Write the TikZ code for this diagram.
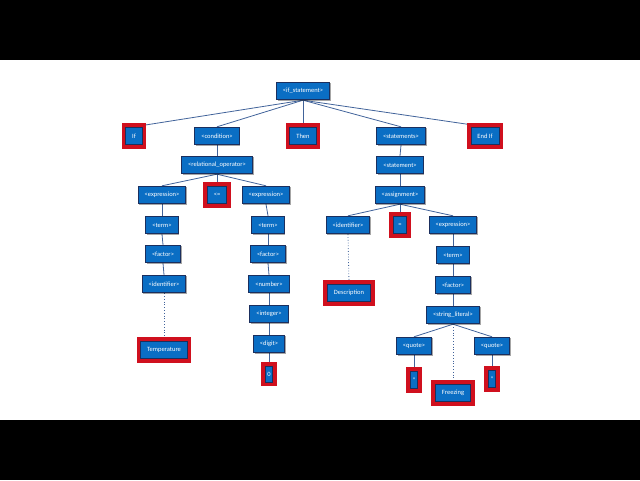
\documentclass[tikz,border=0pt]{standalone}
\usepackage{fontspec}
\setmainfont{Carlito}
\usetikzlibrary{shadows}
\definecolor{boxblue}{HTML}{0A6EC4}
\definecolor{boxedge}{HTML}{1B2F5E}
\definecolor{termred}{HTML}{D0101E}
\definecolor{linkblue}{HTML}{41639A}
\pgfdeclarelayer{background}
\pgfsetlayers{background,main}
\tikzset{
  nt/.style={draw=boxedge, line width=0.9pt, fill=boxblue, text=white,
    font=\fontsize{6.5}{7.5}\selectfont, minimum height=17.5pt, inner xsep=6.5pt, inner ysep=1pt,
    drop shadow={shadow xshift=1.2pt, shadow yshift=-1.2pt, opacity=.35, fill=black}},
  tm/.style={nt, preaction={draw=termred, line width=8pt}},
  link/.style={draw=linkblue, line width=0.8pt},
  dotlink/.style={draw=linkblue, line width=0.8pt, dotted}
}
\begin{document}
\begin{tikzpicture}[x=1pt,y=-1pt]
\useasboundingbox (0,0) rectangle (640,480);
\fill[black] (0,0) rectangle (640,60);
\fill[black] (0,420) rectangle (640,480);
\node[nt] (is) at (303,91) {<if\_statement>};
\node[tm] (if) at (134,136) {If};
\node[nt] (cond) at (217,136) {<condition>};
\node[tm] (then) at (303,136) {Then};
\node[nt] (stmts) at (401,136) {<statements>};
\node[tm] (endif) at (485,136) {End If};
\node[nt] (relop) at (217,165) {<relational\_operator>};
\node[nt] (expL) at (162,195) {<expression>};
\node[tm] (le) at (217,195) {<=};
\node[nt] (expR) at (266,195) {<expression>};
\node[nt] (termL) at (162,225) {<term>};
\node[nt] (termR) at (268,225) {<term>};
\node[nt] (factL) at (163,254) {<factor>};
\node[nt] (factR) at (268,254) {<factor>};
\node[nt] (idL) at (164,284) {<identifier>};
\node[nt] (num) at (269,284) {<number>};
\node[nt] (int) at (269,314) {<integer>};
\node[nt] (digit) at (269,344) {<digit>};
\node[tm, inner xsep=2pt, minimum height=16pt] (zero) at (269,374) {0};
\node[tm] (temp) at (164,350) {Temperature};
\node[nt] (stmt) at (400,165) {<statement>};
\node[nt] (asg) at (400,195) {<assignment>};
\node[nt] (idR) at (348,225) {<identifier>};
\node[tm, inner xsep=5pt] (eq) at (400,225) {=};
\node[nt] (expR2) at (453,225) {<expression>};
\node[nt] (term2) at (453,255) {<term>};
\node[nt] (fact2) at (453,285) {<factor>};
\node[nt] (strlit) at (453,315) {<string\_literal>};
\node[nt] (q1) at (414,346) {<quote>};
\node[nt] (q2) at (492,346) {<quote>};
\node[tm, inner xsep=2.5pt] (qt1) at (414,380) {"};
\node[tm, inner xsep=2.5pt] (qt2) at (492,379) {"};
\node[tm] (freez) at (453,393) {Freezing};
\node[tm] (desc) at (349,293) {Description};
\begin{pgfonlayer}{background}
\foreach \c in {if,cond,then,stmts,endif} \draw[link] (is.south) -- (\c.north);
\draw[link] (cond.south) -- (relop.north);
\foreach \c in {expL,le,expR} \draw[link] (relop.south) -- (\c.north);
\draw[link] (expL.south) -- (termL.north);
\draw[link] (termL.south) -- (factL.north);
\draw[link] (factL.south) -- (idL.north);
\draw[dotlink] (idL.south) -- (temp.north);
\draw[link] (expR.south) -- (termR.north);
\draw[link] (termR.south) -- (factR.north);
\draw[link] (factR.south) -- (num.north);
\draw[link] (num.south) -- (int.north);
\draw[link] (int.south) -- (digit.north);
\draw[link] (digit.south) -- (zero.north);
\draw[link] (stmts.south) -- (stmt.north);
\draw[link] (stmt.south) -- (asg.north);
\foreach \c in {idR,eq,expR2} \draw[link] (asg.south) -- (\c.north);
\draw[dotlink] (idR.south) -- (desc.north);
\draw[link] (expR2.south) -- (term2.north);
\draw[link] (term2.south) -- (fact2.north);
\draw[link] (fact2.south) -- (strlit.north);
\draw[link] (strlit.south) -- (q1.north);
\draw[link] (strlit.south) -- (q2.north);
\draw[dotlink] (strlit.south) -- (freez.north);
\draw[link] (q1.south) -- (qt1.north);
\draw[link] (q2.south) -- (qt2.north);
\end{pgfonlayer}
\end{tikzpicture}
\end{document}
